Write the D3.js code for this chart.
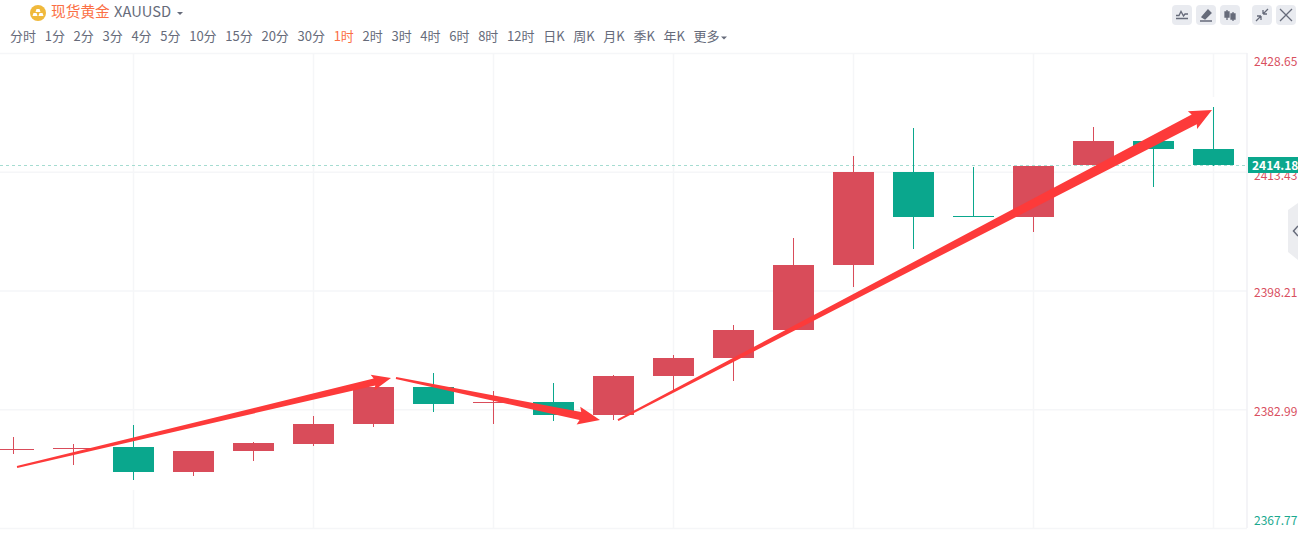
<!DOCTYPE html>
<html>
<head>
<meta charset="utf-8">
<title>XAUUSD</title>
<script src="https://cdn.jsdelivr.net/npm/d3@7"></script>
<style>
  html, body { margin: 0; padding: 0; background: #fff; overflow: hidden; }
  svg { display: block; }
  text { font-family: "Noto Sans CJK SC", "Noto Sans", sans-serif; }
</style>
</head>
<body>
<svg id="chart" width="1298" height="549"></svg>
<script>
// hourly candles, red = up, green = down
const opens  = [2377.77, 2377.89, 2378.15, 2374.95, 2377.64, 2378.53, 2381.10, 2385.84, 2383.79, 2383.92, 2382.25, 2387.25, 2389.56, 2393.15, 2401.48, 2413.40, 2407.76, 2407.63, 2414.29, 2417.37, 2416.35];
const highs  = [2379.43, 2378.53, 2380.97, 2377.64, 2378.79, 2382.12, 2385.84, 2387.63, 2385.33, 2386.35, 2387.38, 2389.94, 2393.79, 2404.94, 2415.45, 2419.04, 2414.04, 2414.17, 2419.17, 2417.37, 2421.73];
const lows   = [2377.25, 2375.84, 2373.92, 2374.43, 2376.36, 2378.28, 2380.71, 2382.64, 2381.10, 2381.48, 2381.61, 2385.46, 2386.61, 2393.15, 2398.66, 2403.53, 2407.63, 2405.71, 2414.29, 2411.47, 2414.17];
const closes = [2377.89, 2378.01, 2374.95, 2377.64, 2378.66, 2381.10, 2385.84, 2383.66, 2383.92, 2382.25, 2387.25, 2389.56, 2393.15, 2401.48, 2413.40, 2407.63, 2407.63, 2414.17, 2417.37, 2416.35, 2414.29];

const priceTicks = [2428.65, 2413.43, 2398.21, 2382.99, 2367.77];
const gridBars = [2, 5, 8, 11, 14, 17, 20];
const lastPrice = 2414.18;

const tabs = ['分时', '1分', '2分', '3分', '4分', '5分', '10分', '15分', '20分', '30分', '1时', '2时', '3时', '4时', '6时', '8时', '12时', '日K', '周K', '月K', '季K', '年K', '更多'];
const activeTab = '1时';

// hand drawn arrows: [bar, price] tail then tip
const arrowTails = [[0.067, 2375.59], [6.383, 2386.99], [10.083, 2381.61]];
const arrowTips  = [[6.3, 2386.99], [9.783, 2381.61], [19.983, 2421.34]];

const plotTop = 53;
const plotBottom = 528;
const axisX = 1247;
const bodyWidth = 41;

const red = '#d94c5a';
const green = '#0aa78d';
const gridColor = '#f5f6f8';
const arrowColor = '#fd3a3a';

const xscale = d3.scaleLinear().domain([0, 20]).range([13, 1213]);
const yscale = d3.scaleLinear().domain([2367.77, 2428.65]).range([plotBottom, plotTop]);

const svg = d3.select('#chart');

// grid
const leftAxis = d3.axisLeft(yscale).tickValues(priceTicks).tickSize(axisX).tickFormat('');
svg.append('g')
  .attr('transform', `translate(${axisX}, 0)`)
  .call(leftAxis)
  .call((g) => g.select('.domain').remove())
  .selectAll('line').attr('stroke', gridColor).attr('stroke-width', 1.5);

const bottomAxis = d3.axisTop(xscale).tickValues(gridBars).tickSize(plotBottom - plotTop).tickFormat('');
svg.append('g')
  .attr('transform', `translate(0, ${plotBottom})`)
  .call(bottomAxis)
  .call((g) => g.select('.domain').remove())
  .selectAll('line').attr('stroke', gridColor).attr('stroke-width', 1.5);

svg.append('line')
  .attr('x1', axisX).attr('x2', axisX)
  .attr('y1', plotTop).attr('y2', plotBottom)
  .attr('stroke', '#f0f1f4').attr('stroke-width', 1.5);

// the grid breaks just past the wick on these two candles
svg.append('g').selectAll('rect')
  .data([{ i: 2, v: lows[2], dy: 0 }, { i: 20, v: highs[20], dy: -10 }])
  .enter().append('rect')
  .attr('x', (d) => xscale(d.i) - 2)
  .attr('y', (d) => yscale(d.v) + d.dy)
  .attr('width', 4)
  .attr('height', 10)
  .attr('fill', '#fff');

// last price line
svg.append('line')
  .attr('x1', 0).attr('x2', axisX)
  .attr('y1', Math.floor(yscale(lastPrice)) + 0.5).attr('y2', Math.floor(yscale(lastPrice)) + 0.5)
  .attr('stroke', '#a5dcd1')
  .attr('stroke-dasharray', '3,3');

// candles
const candles = opens.map((open, i) => ({ i, open, high: highs[i], low: lows[i], close: closes[i] }));
const candleColor = (d) => (d.close >= d.open ? red : green);

const candle = svg.append('g')
  .selectAll('g')
  .data(candles)
  .enter()
  .append('g');

candle.append('rect')
  .attr('x', (d) => Math.round(xscale(d.i)))
  .attr('y', (d) => Math.round(yscale(d.high)))
  .attr('width', 1)
  .attr('height', (d) => Math.round(yscale(d.low)) - Math.round(yscale(d.high)))
  .attr('fill', candleColor);

candle.append('rect')
  .attr('x', (d) => Math.round(xscale(d.i)) - 20)
  .attr('y', (d) => Math.round(yscale(Math.max(d.open, d.close))))
  .attr('width', bodyWidth)
  .attr('height', (d) => Math.max(1, Math.round(yscale(Math.min(d.open, d.close))) - Math.round(yscale(Math.max(d.open, d.close)))))
  .attr('fill', candleColor);

// price labels
const labelShift = [9, 4, 2, 3, -7];
svg.append('g')
  .selectAll('text')
  .data(priceTicks)
  .enter()
  .append('text')
  .text((d) => d.toFixed(2))
  .attr('x', 1254)
  .attr('y', (d, i) => yscale(d) + labelShift[i] + 4)
  .attr('font-size', 12)
  .attr('fill', (d, i) => (i === priceTicks.length - 1 ? '#1aa98f' : '#d9505f'));

// last price tag
const tagY = yscale(lastPrice);
svg.append('rect')
  .attr('x', 1248).attr('y', Math.floor(tagY) - 8)
  .attr('width', 50).attr('height', 16)
  .attr('fill', green);
svg.append('text')
  .text(lastPrice.toFixed(2))
  .attr('x', 1252).attr('y', tagY + 4.5)
  .attr('font-size', 12)
  .attr('font-weight', 700)
  .attr('fill', '#fff');

// arrows, tapered from a thin tail to the head
const arrowShape = [
  { tail: 2, shaft: 7, headLen: 17, headHalf: 8 },
  { tail: 2, shaft: 8, headLen: 20, headHalf: 9 },
  { tail: 2, shaft: 11, headLen: 20, headHalf: 10 }
];

const arrowPath = (tail, tip, s) => {
  const x0 = xscale(tail[0]), y0 = yscale(tail[1]);
  const x1 = xscale(tip[0]), y1 = yscale(tip[1]);
  const len = Math.hypot(x1 - x0, y1 - y0);
  const ux = (x1 - x0) / len, uy = (y1 - y0) / len;
  const nx = -uy, ny = ux;
  const bx = x1 - ux * s.headLen, by = y1 - uy * s.headLen;
  const pts = [
    [x0 - nx * s.tail / 2, y0 - ny * s.tail / 2],
    [bx - nx * s.shaft / 2, by - ny * s.shaft / 2],
    [bx - nx * s.headHalf - ux * 2, by - ny * s.headHalf - uy * 2],
    [x1, y1],
    [bx + nx * s.headHalf - ux * 2, by + ny * s.headHalf - uy * 2],
    [bx + nx * s.shaft / 2, by + ny * s.shaft / 2],
    [x0 + nx * s.tail / 2, y0 + ny * s.tail / 2]
  ];
  return 'M' + pts.map((p) => p.join(',')).join('L') + 'Z';
};

svg.append('g')
  .selectAll('path')
  .data(arrowTails)
  .enter()
  .append('path')
  .attr('d', (d, i) => arrowPath(d, arrowTips[i], arrowShape[i]))
  .attr('fill', arrowColor);

// header
const header = svg.append('g');
header.append('circle').attr('cx', 38).attr('cy', 13).attr('r', 8).attr('fill', '#f0b93c');
header.append('path')
  .attr('d', 'M36.5,9h3l1,3h-5zM33.5,13h3l1,3h-5zM39.5,13h3l1,3h-5z')
  .attr('fill', '#fff');
header.append('text')
  .text('现货黄金')
  .attr('x', 51).attr('y', 17)
  .attr('font-size', 14.7)
  .attr('fill', '#fb6f45');
header.append('text')
  .text('XAUUSD')
  .attr('x', 114).attr('y', 17)
  .attr('font-size', 14.7)
  .attr('fill', '#666b7a');
header.append('path').attr('d', 'M177,12h6l-3,3z').attr('fill', '#666b7a');

// period tabs
let tabX = 10;
const tabGroup = svg.append('g');
tabs.forEach((t) => {
  const label = tabGroup.append('text')
    .text(t)
    .attr('x', tabX).attr('y', 41)
    .attr('font-size', 13)
    .attr('fill', t === activeTab ? '#fb6f45' : '#666b7a');
  tabX += label.node().getComputedTextLength() + 8.68;
});
tabGroup.append('path').attr('d', 'M721,36.5h6l-3,3z').attr('fill', '#666b7a');

// toolbar buttons
const buttonX = [1172, 1196, 1220, 1252, 1276];
const buttonIcons = [
  'M-6,3.5H6M-6,0.5L-3,0.5L-1,-3.5L1.5,1L3,-1L6,-1',
  'M-6,6H6M-4,2L2,-5L5,-2L-1,4Z',
  'M-3,-5V5M3,-3V6M-5,-3H-1V2H-5ZM1,-1H5V4H1Z',
  'M-6,6L-1,1M-1,1V5M-1,1H-5M6,-6L1,-1M1,-1V-5M1,-1H5',
  'M-6,-6L6,6M6,-6L-6,6'
];
const buttons = svg.append('g')
  .selectAll('g')
  .data(buttonX)
  .enter()
  .append('g')
  .attr('transform', (d) => `translate(${d}, 5)`);
buttons.append('rect')
  .attr('width', 20).attr('height', 20).attr('rx', 4)
  .attr('fill', '#e9ebf0');
buttons.append('path')
  .attr('transform', 'translate(10, 10)')
  .attr('d', (d, i) => buttonIcons[i])
  .attr('fill', (d, i) => (i === 1 || i === 2 ? '#666b7a' : 'none'))
  .attr('stroke', '#666b7a')
  .attr('stroke-width', 1.3);

// side handle
svg.append('path')
  .attr('d', 'M1298,203L1288,210V252L1298,260Z')
  .attr('fill', '#ecedf0');
svg.append('path')
  .attr('d', 'M1298,226L1293.5,231L1298,236')
  .attr('fill', 'none')
  .attr('stroke', '#666b7a')
  .attr('stroke-width', 1.5);
</script>
</body>
</html>
